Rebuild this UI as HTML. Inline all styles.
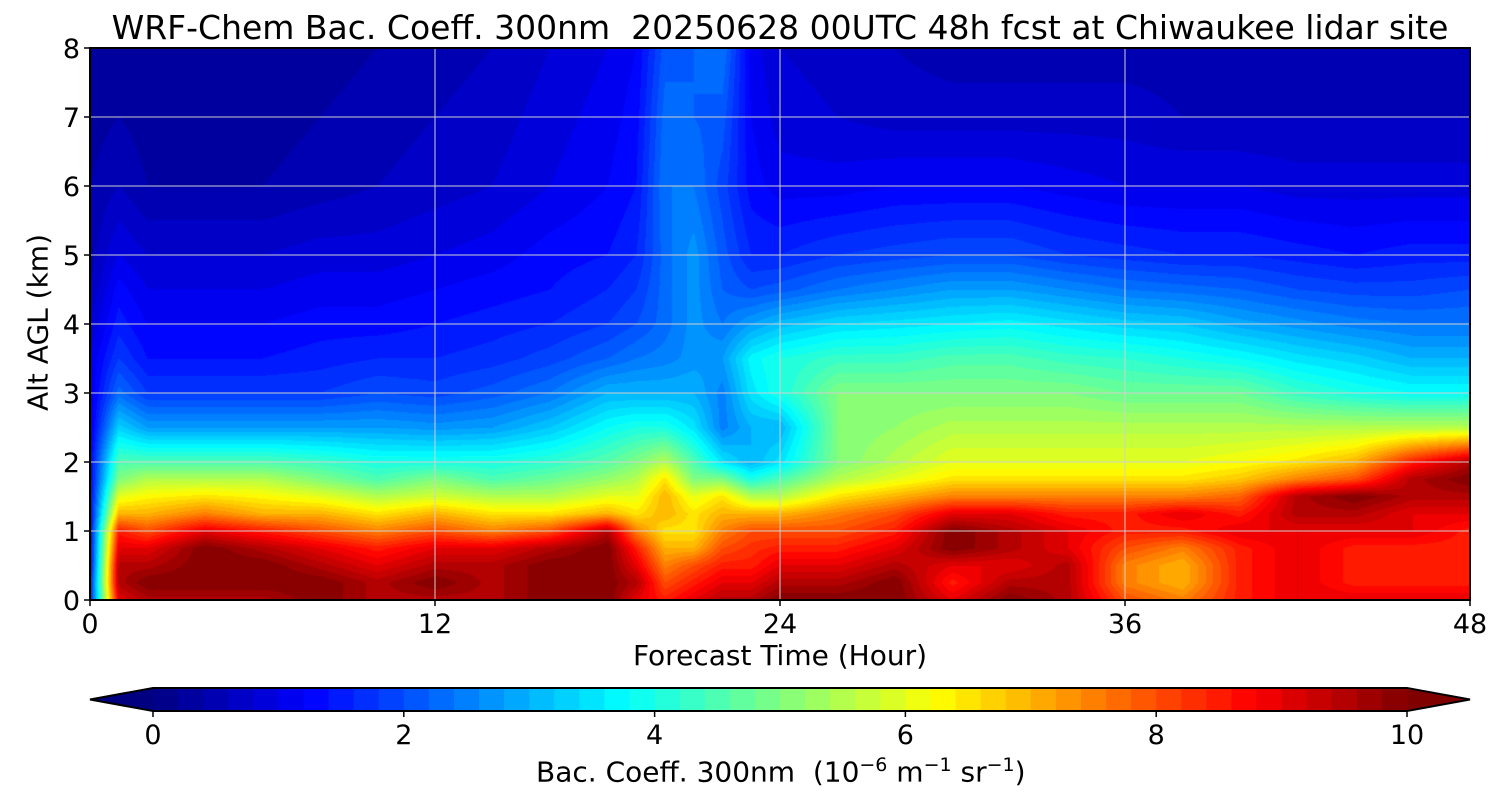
<!DOCTYPE html>
<html><head><meta charset="utf-8">
<style>
body{margin:0;background:#fff;width:1500px;height:800px;overflow:hidden;font-family:"DejaVu Sans",sans-serif;}
#wrap{position:relative;width:1500px;height:800px;}
.t{position:absolute;color:#000;white-space:nowrap;font-family:"DejaVu Sans",sans-serif;}
</style></head>
<body>
<div id="wrap">
<div class="t" style="left:0;width:1560px;text-align:center;top:8px;font-size:33px;">WRF-Chem Bac. Coeff. 300nm&nbsp; 20250628 00UTC 48h fcst at Chiwaukee lidar site</div>
<canvas id="plot" width="1380" height="552" style="position:absolute;left:90px;top:48px;"></canvas>
<svg id="ov" width="1500" height="800" style="position:absolute;left:0;top:0;"></svg>
<div class="t" style="left:0;width:1560px;text-align:center;top:639px;font-size:28px;">Forecast Time (Hour)</div>
<div class="t" style="left:-62px;top:306px;font-size:28px;transform:rotate(-90deg);width:200px;text-align:center;">Alt AGL (km)</div>
<div class="t" style="left:536px;top:754px;font-size:28px;">Bac. Coeff. 300nm&nbsp; (10<sup style="font-size:19px">−6</sup> m<sup style="font-size:19px">−1</sup> sr<sup style="font-size:19px">−1</sup>)</div>
</div>
<script>
const times=[0,1,2,4,6,8,10,12,14,16,18,19,20,21,22,23,24,26,28,30,32,34,36,38,40,42,44,46,48];
const alts=[0,0.25,0.5,0.75,1,1.25,1.5,1.75,2,2.5,3,3.5,4,4.5,5,6,7,8];
const values=[
[1.5,1.5,1.2,1.2,1.2,1.2,1.2,1.2,1.2,1.0,1.0,1.0,0.8,0.6,0.5,0.4,0.3,0.3],
[9,9.5,9.5,9,8.5,7,6,5,4.5,3.3,2.3,1.8,1.5,1.3,1.0,0.6,0.4,0.3],
[9.5,10,9.5,9,8,7,6.3,5.5,4.5,2.8,1.8,1.4,1.2,1.0,0.8,0.4,0.3,0.2],
[9.5,10,10,10,9,7.5,6.5,5.5,4.5,2.8,1.8,1.4,1.2,1.0,0.8,0.4,0.2,0.2],
[9.5,10,10,9.5,8.5,7,6.3,5.5,4.5,2.8,1.8,1.4,1.2,1.0,0.8,0.4,0.3,0.2],
[10,10,9.5,9,8,7,6,5,4.3,2.8,1.8,1.5,1.3,1.1,0.9,0.5,0.4,0.3],
[9.5,9.5,9,8.5,7.5,6.5,5.5,4.5,4,2.8,2.0,1.6,1.3,1.1,0.9,0.6,0.5,0.4],
[9.5,10,9.5,9,8,7,5.8,5,4,2.7,1.9,1.6,1.4,1.2,1.0,0.7,0.6,0.5],
[9.5,9.5,9.5,9,7.5,6.5,5.5,4.5,4,2.8,2.1,1.7,1.5,1.3,1.1,0.8,0.7,0.6],
[10,10,10,9.5,8,6.5,5.5,4.8,4.2,3.2,2.4,1.9,1.6,1.4,1.3,1.0,0.9,0.8],
[10,10,10,10,9.5,7,6,5.2,4.6,3.8,3.0,2.2,1.8,1.6,1.4,1.2,1.1,1.0],
[9,9.5,9,8.5,7.5,6.5,6,5.5,5,4,3.0,2.4,2.0,1.8,1.6,1.4,1.3,1.2],
[8.5,8,7.5,7,6.5,7,7,6.5,5.5,4,3,2.5,2.3,2.3,2.3,2.4,2.3,2.1],
[9,8.5,8,7,6.5,6.5,6,5,4.5,3.5,3,2.7,2.7,2.7,2.7,2.4,2.2,2.2],
[9.5,9,8.5,8,7.5,7,6.5,5,3.5,2.5,2.5,2.8,2.4,2.2,2.1,1.9,2.1,2.4],
[9.5,9,8.5,8.3,8,7,5.5,4,3,3,3.5,3.7,2.8,2.0,1.6,1.3,1.2,1.1],
[10,9.5,9,8.5,8,7,5.5,4.5,3.5,3,4,4,3.1,2.1,1.6,1.1,0.9,0.8],
[10,9.5,9,8.5,8,7.5,6.5,5.5,5,5,5,4.3,3.4,2.4,1.8,1.1,0.8,0.7],
[10,10,9.5,9,8.5,8,7,6,5.5,5.2,5,4.3,3.5,2.6,1.9,1.2,0.7,0.6],
[9,8.5,9,10,10,9,7.5,6.5,6,5.5,5,4.5,3.6,2.8,2.0,1.2,0.7,0.5],
[10,9.5,9,9.5,9.5,9,7.5,6.5,6,5.5,5,4.5,3.7,2.8,2.0,1.2,0.7,0.5],
[9.5,9.5,9.5,9,9,8.5,7.5,6.5,6,5.5,5,4.3,3.5,2.6,1.8,1.1,0.7,0.5],
[8,7.5,7.5,8,8.5,8.5,7.5,6.5,6,5.5,4.8,4.2,3.3,2.4,1.7,1.0,0.7,0.5],
[7.5,7,7,7.5,8.5,9,7.5,6.5,6,5.5,4.8,4,3.2,2.3,1.6,1.0,0.6,0.5],
[8.5,8.5,8.5,8.5,9,8.5,7.8,6.8,6.2,5.5,4.8,3.8,2.9,2.2,1.6,1.0,0.6,0.5],
[9,9,9,9,9,9.5,9.5,7.5,6.5,5.5,4.3,3.5,2.7,2.0,1.5,0.9,0.6,0.5],
[9,8.5,8.5,8.5,9,9.5,10,8,7,5.5,4,3.3,2.5,1.9,1.4,0.9,0.6,0.4],
[9,8.5,8.5,8.5,9,9,9.5,9.5,8.5,5.5,3.8,3.0,2.4,1.9,1.5,0.9,0.6,0.5],
[9,8.5,8.5,8.5,8.5,9,9.5,10,9.5,5.5,3.8,3.0,2.4,2.0,1.5,0.9,0.6,0.5]
];
const xTicks=[0,12,24,36,48];
const yTicks=[0,1,2,3,4,5,6,7,8];
const cbTicks=[0,2,4,6,8,10];

const PX=90,PY=48,PW=1380,PH=552;
const xs=t=>PX+t/48*PW, ys=a=>PY+PH-a/8*PH;
const clip=v=>Math.max(0,Math.min(1,v));
function jet(x){return [clip(1.5-Math.abs(4*x-3)),clip(1.5-Math.abs(4*x-2)),clip(1.5-Math.abs(4*x-1))].map(v=>Math.round(v*255));}
function levelColor(v){let q=Math.floor(Math.max(0,Math.min(9.999,v))/0.2);return jet((q+0.5)/50);}
function seg(arr,v){for(let i=0;i<arr.length-1;i++){if(v<=arr[i+1])return [i,(v-arr[i])/(arr[i+1]-arr[i])];}return [arr.length-2,1];}
const cv=document.getElementById('plot'),ctx=cv.getContext('2d');
const img=ctx.createImageData(PW,PH);
for(let px=0;px<PW;px++){
  const t=(px+0.5)/PW*48;const [i,ft]=seg(times,t);
  for(let py=0;py<PH;py++){
    const a=(PH-py-0.5)/PH*8;const [j,fa]=seg(alts,a);
    const v=(1-ft)*((1-fa)*values[i][j]+fa*values[i][j+1])+ft*((1-fa)*values[i+1][j]+fa*values[i+1][j+1]);
    const c=levelColor(v);const k=(py*PW+px)*4;
    img.data[k]=c[0];img.data[k+1]=c[1];img.data[k+2]=c[2];img.data[k+3]=255;
  }
}
ctx.putImageData(img,0,0);
const NS='http://www.w3.org/2000/svg';const ov=document.getElementById('ov');
function mk(tag,at,txt){const e=document.createElementNS(NS,tag);for(const k in at)e.setAttribute(k,at[k]);if(txt!==undefined)e.textContent=txt;ov.appendChild(e);return e;}
const FF='DejaVu Sans';
xTicks.forEach(t=>{
  if(t>0&&t<48){const g=mk('line',{x1:xs(t),x2:xs(t),y1:PY,y2:PY+PH,stroke:'#d0d0d0','stroke-width':1});
  
  }
  mk('line',{x1:xs(t),x2:xs(t),y1:PY+PH,y2:PY+PH+6,stroke:'#000','stroke-width':1.5});
  const l=mk('text',{x:xs(t),y:PY+PH+33,'font-size':27,'text-anchor':'middle','font-family':FF},t);
  
  
});
yTicks.forEach(a=>{
  if(a>0&&a<8){const g=mk('line',{x1:PX,x2:PX+PW,y1:ys(a),y2:ys(a),stroke:'#d0d0d0','stroke-width':1});
  
  }
  mk('line',{x1:PX-6,x2:PX,y1:ys(a),y2:ys(a),stroke:'#000','stroke-width':1.5});
  const l=mk('text',{x:PX-10,y:ys(a)+10,'font-size':27,'text-anchor':'end','font-family':FF},a);
  
  
});
const fr=mk('rect',{x:PX,y:PY,width:PW,height:PH,fill:'none',stroke:'#000','stroke-width':2});


const CX0=153,CX1=1407,CY=688,CH=23;const cx=v=>CX0+v/10*(CX1-CX0);
const lt=mk('polygon',{points:`${CX0},${CY} 90,${CY+CH/2} ${CX0},${CY+CH}`,fill:'rgb('+jet(0).join(',')+')'});


const rt=mk('polygon',{points:`${CX1},${CY} 1470,${CY+CH/2} ${CX1},${CY+CH}`,fill:'rgb('+jet(1).join(',')+')'});


for(let q=0;q<50;q++){const v=q*0.2;const r=mk('rect',{x:cx(v),y:CY,width:cx(v+0.2)-cx(v)+0.5,height:CH,fill:'rgb('+levelColor(v+0.1).join(',')+')'});
  
  }
const ol=mk('polygon',{points:`90,${CY+CH/2} ${CX0},${CY} ${CX1},${CY} 1470,${CY+CH/2} ${CX1},${CY+CH} ${CX0},${CY+CH}`,fill:'none',stroke:'#000','stroke-width':2});


cbTicks.forEach(v=>{
  mk('line',{x1:cx(v),x2:cx(v),y1:CY+CH,y2:CY+CH+6,stroke:'#000','stroke-width':1.5});
  const l=mk('text',{x:cx(v),y:CY+CH+33,'font-size':27,'text-anchor':'middle','font-family':FF},v);
  
  
});
</script>
</body></html>
